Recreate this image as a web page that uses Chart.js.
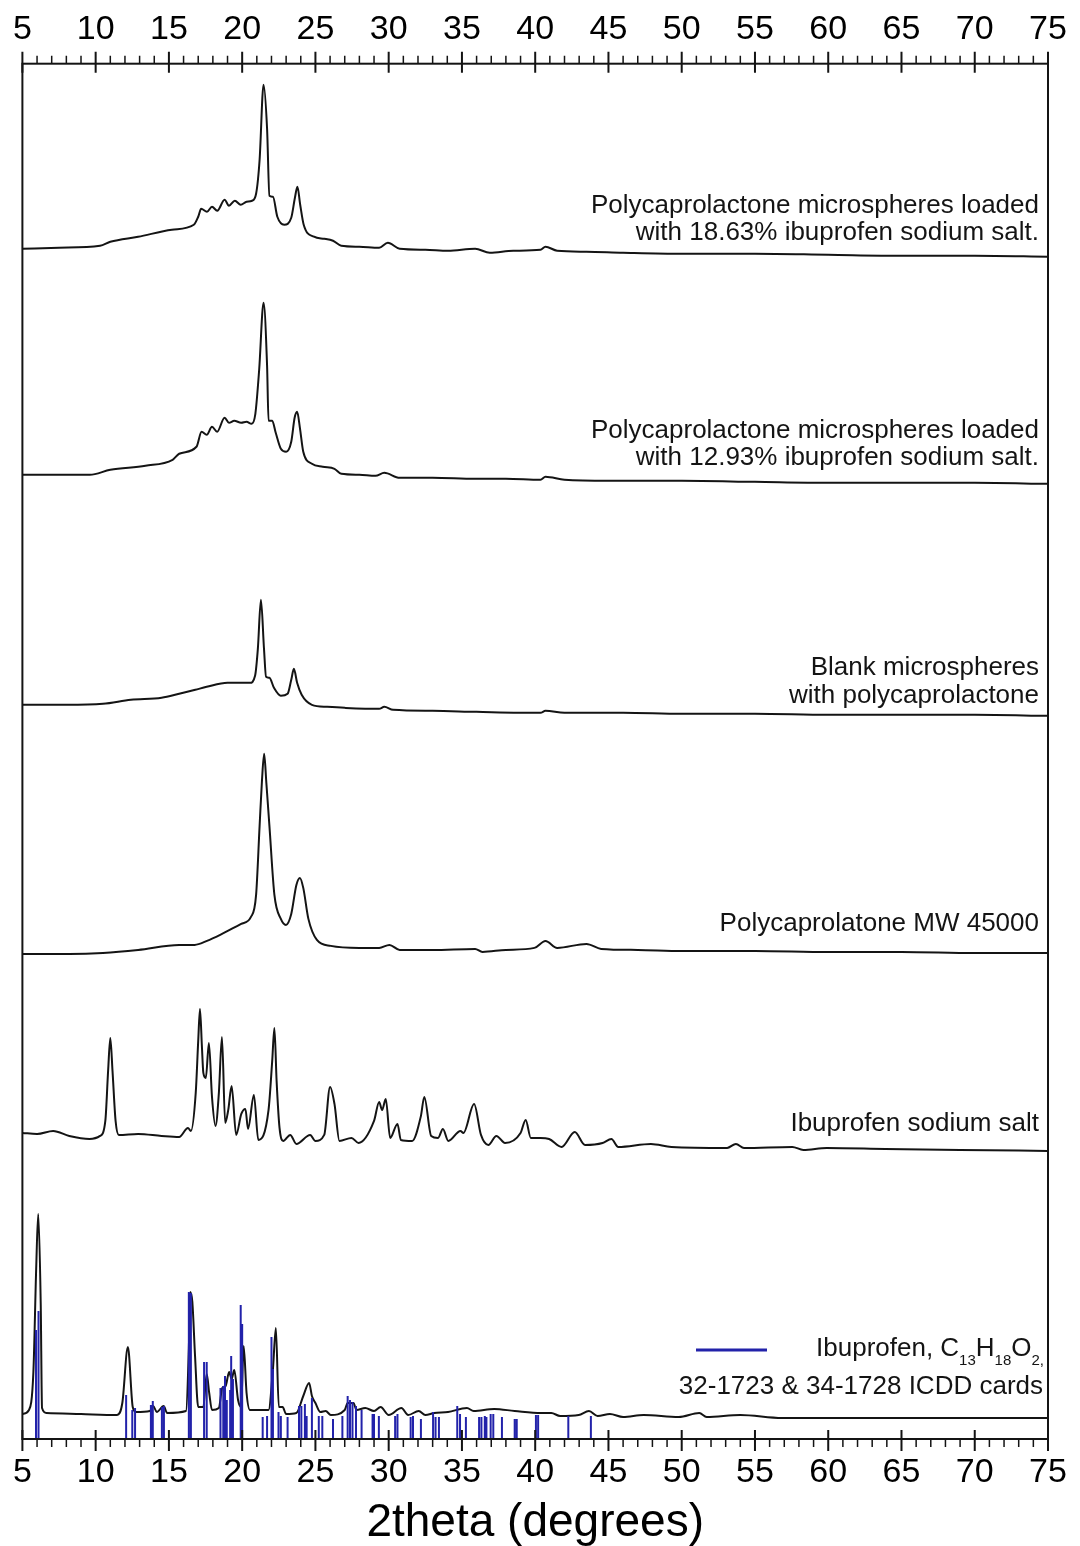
<!DOCTYPE html>
<html>
<head>
<meta charset="utf-8">
<script src="https://cdn.jsdelivr.net/npm/chart.js@4.4.1/dist/chart.umd.min.js"></script>
<style>
  html, body { margin: 0; padding: 0; background: #ffffff; }
  #wrap { width: 1080px; height: 1546px; position: relative; }
  canvas { display: block; }
</style>
</head>
<body>
<div id="wrap"><canvas id="xrd" width="1080" height="1546"></canvas></div>
<script>
// ---- X-ray powder diffraction patterns (2theta in degrees, intensity in arbitrary counts) ----

const axisTicks = [5, 10, 15, 20, 25, 30, 35, 40, 45, 50, 55, 60, 65, 70, 75];

// PCL microspheres loaded with 18.63 % ibuprofen sodium salt
const pcl1863Theta = [5, 7.5, 10.3, 11.0, 12.9, 15.2, 16.7, 17.0, 17.2, 17.6, 17.94, 18.3, 18.8, 19.1, 19.5, 19.9, 20.3, 20.67, 20.95, 21.19, 21.46, 21.7, 21.86, 22.1, 22.4, 22.87, 23.35, 23.6, 23.77, 23.96, 24.2, 24.9, 25.6, 26.2, 26.76, 28.0, 29.35, 29.94, 30.75, 32.5, 34.05, 35.9, 36.9, 38.5, 40.36, 40.7, 41.5, 43.5, 46, 50, 55, 60, 65, 70, 75];
const pcl1863Counts = [8, 9, 11, 15, 20, 27, 32, 40, 48, 45, 50, 46, 57, 51, 56, 52, 55, 56, 63, 97, 172, 128, 61, 60, 40, 32, 39, 59, 70, 52, 32, 20, 18, 16, 11, 10, 9, 14, 8, 7, 6, 8, 4, 6, 7, 10, 6, 5, 4, 3, 3, 2, 1, 1, 0];

// PCL microspheres loaded with 12.93 % ibuprofen sodium salt
const pcl1293Theta = [5, 7.5, 9.6, 11.0, 13.4, 15.25, 15.7, 16.88, 17.23, 17.58, 17.94, 18.29, 18.8, 19.1, 19.46, 19.93, 20.3, 20.64, 20.9, 21.16, 21.46, 21.7, 21.8, 22.05, 22.29, 22.64, 23.0, 23.35, 23.58, 23.75, 23.94, 24.17, 24.76, 25.5, 26.3, 26.77, 28.0, 29.1, 29.7, 30.75, 33, 35.9, 38, 40.36, 40.7, 42, 45, 50, 55, 60, 65, 70, 75];
const pcl1293Counts = [9, 9, 9, 14, 18, 24, 30, 37, 52, 49, 57, 52, 66, 61, 63, 61, 62, 60, 70, 114, 181, 118, 63, 63, 51, 35, 32, 42, 66, 72, 56, 32, 20, 17, 15, 10, 9, 8, 11, 6, 6, 5, 5, 4, 7, 4, 3, 3, 2, 1, 1, 1, 0];

// Blank polycaprolactone microspheres
const blankTheta = [5, 8, 10.5, 12.4, 14.5, 15.7, 16.8, 17.58, 19.0, 20.53, 20.88, 21.07, 21.28, 21.49, 21.63, 21.86, 22.17, 22.64, 23.1, 23.35, 23.53, 23.75, 24.06, 24.76, 25.8, 27.0, 29.35, 29.7, 30.3, 33, 36, 40.36, 40.7, 42, 46, 50, 55, 60, 65, 70, 75];
const blankCounts = [11, 11, 12, 16, 18, 22, 26, 29, 33, 33, 40, 67, 116, 67, 39, 38, 28, 20, 22, 36, 47, 33, 21, 11, 9, 8, 7, 9, 6, 5, 4, 3, 5, 3, 3, 2, 2, 1, 1, 1, 0];

// Polycaprolactone MW 45000 raw polymer
const pclTheta = [5, 8.2, 10.5, 12.9, 15.7, 16.76, 17.6, 18.5, 19.93, 20.6, 20.95, 21.19, 21.35, 21.5, 21.65, 21.86, 22.2, 22.64, 22.99, 23.35, 23.7, 23.94, 24.17, 24.52, 25.1, 26.05, 28, 29.35, 30.05, 30.75, 33, 35.9, 36.4, 38, 39.95, 40.7, 41.5, 43.5, 44.5, 47, 50, 55, 60, 65, 70, 75];
const pclCounts = [-1, -1, 0, 3, 8, 8, 12, 18, 29, 36, 58, 127, 172, 199, 170, 127, 58, 34, 28, 39, 68, 75, 65, 34, 13, 7, 5, 5, 8, 3, 3, 4, 1, 3, 5, 12, 5, 9, 4, 3, 2, 2, 1, 1, 0, 0];

// Ibuprofen sodium salt
const ibuNaTheta = [5, 6, 7.1, 8.2, 9.58, 10.3, 10.66, 10.85, 11.0, 11.15, 11.36, 11.58, 12.9, 14.5, 15.7, 16.3, 16.5, 16.83, 17.0, 17.12, 17.25, 17.35, 17.52, 17.73, 17.94, 18.18, 18.41, 18.62, 18.84, 19.05, 19.28, 19.59, 19.94, 20.22, 20.4, 20.8, 21.1, 21.8, 22.05, 22.2, 22.35, 22.55, 22.8, 23.28, 23.7, 24.64, 25.0, 25.6, 26.0, 26.3, 26.64, 27.46, 27.94, 29.0, 29.35, 29.55, 29.8, 30.1, 30.6, 30.83, 31.6, 32.2, 32.43, 32.9, 33.37, 33.7, 34.07, 34.9, 35.1, 35.83, 36.3, 36.8, 37.35, 37.94, 39.0, 39.35, 39.7, 40.36, 40.95, 41.8, 42.7, 43.4, 44.6, 45.2, 45.67, 47.9, 49.3, 53.1, 53.7, 54.25, 57.55, 58.3, 59.9, 63.9, 69, 75];
const ibuNaCounts = [18, 17, 20, 15, 12, 15, 30, 80, 113, 80, 30, 16, 17, 15, 14, 23, 20, 58, 110, 142, 105, 78, 73, 108, 54, 25, 58, 114, 28, 41, 65, 16, 37, 42, 22, 56, 11, 41, 90, 123, 70, 23, 10, 16, 7, 16, 10, 16, 64, 47, 10, 13, 8, 30, 49, 41, 52, 13, 27, 11, 10, 35, 54, 15, 13, 22, 10, 20, 18, 47, 16, 6, 15, 8, 18, 31, 13, 13, 12, 4, 19, 6, 8, 12, 4, 7, 4, 3, 7, 3, 4, 1, 3, 2, 1, 0];

// Ibuprofen, calculated pattern
const ibuCalcTheta = [5, 5.45, 5.75, 5.94, 6.08, 6.25, 6.34, 6.65, 9, 11.46, 11.82, 12.2, 12.53, 12.76, 13.7, 13.93, 14.17, 14.64, 14.88, 16.17, 16.36, 16.45, 16.6, 16.78, 17.0, 17.35, 17.58, 17.75, 17.94, 18.41, 18.64, 18.87, 19.11, 19.28, 19.46, 19.72, 19.93, 20.1, 20.3, 20.53, 21.8, 22.1, 22.3, 22.5, 22.76, 23.0, 23.7, 24.17, 24.57, 24.76, 25.0, 25.34, 25.7, 26.05, 27.0, 27.2, 27.6, 27.8, 28.4, 29.0, 29.45, 30.0, 30.87, 31.33, 32.05, 32.5, 33.1, 34.05, 35.34, 35.8, 37.2, 38.6, 40.4, 41.1, 41.7, 42.97, 43.67, 44.26, 45.1, 46.0, 47.4, 49.8, 51.2, 51.7, 54.0, 56.85, 63.9, 75];
const ibuCalcCounts = [4, 8, 46, 149, 204, 115, 10, 5, 4, 3, 15, 71, 11, 6, 7, 12, 6, 12, 5, 7, 70, 126, 116, 63, 11, 11, 44, 25, 8, 10, 30, 32, 46, 39, 48, 18, 11, 72, 25, 8, 8, 49, 90, 11, 11, 4, 5, 22, 35, 22, 15, 6, 7, 3, 8, 15, 15, 8, 10, 7, 11, 3, 10, 3, 7, 3, 5, 6, 10, 7, 9, 7, 5, 5, 2, 3, 7, 2, 4, 1, 3, 1, 5, 1, 3, 0, 0, 0];

// Ibuprofen reference lines, ICDD cards 32-1723 & 34-1728
const icddTheta = [5.93, 6.1, 12.08, 12.5, 12.69, 13.77, 13.9, 14.52, 14.66, 16.36, 16.5, 17.4, 17.58, 18.52, 18.71, 18.83, 18.95, 19.18, 19.25, 19.37, 19.9, 20.0, 21.4, 21.7, 22.0, 22.1, 22.48, 22.64, 23.1, 23.88, 24.04, 24.28, 24.4, 24.76, 25.23, 25.47, 26.2, 26.84, 27.2, 27.36, 27.53, 27.77, 28.15, 28.9, 29.0, 29.33, 30.44, 30.6, 31.5, 31.66, 32.2, 33.03, 33.2, 33.43, 34.68, 34.87, 35.27, 36.17, 36.33, 36.56, 36.67, 36.96, 37.14, 37.73, 38.6, 38.74, 40.05, 40.2, 42.26, 43.8];
const icddIntensity = [109, 128, 44, 29, 31, 34, 38, 32, 33, 147, 146, 77, 77, 51, 53, 63, 39, 49, 83, 60, 134, 115, 22, 23, 102, 70, 27, 23, 22, 33, 33, 35, 23, 41, 23, 23, 20, 23, 43, 39, 37, 33, 29, 25, 25, 23, 23, 25, 22, 23, 20, 27, 22, 22, 33, 25, 22, 22, 22, 23, 22, 25, 25, 22, 20, 20, 24, 24, 23, 23];

// vertical stacking of the patterns (same units as the counts)
const stackOffsets = [1182, 955, 723, 486, 288, 21];

// ---- chart construction ----
const FONT = '"Liberation Sans", Arial, Helvetica, sans-serif';
const INK = '#141414';
const STICK_BLUE = '#2222aa';

function pattern(thetas, counts, shift) {
  return thetas.map((t, i) => ({ x: t, y: counts[i] + shift }));
}

function sticks(thetas, heights) {
  const pts = [];
  thetas.forEach((t, i) => {
    pts.push({ x: t, y: 0 }, { x: t, y: heights[i] }, { x: t, y: null });
  });
  return pts;
}

const traceStyle = {
  type: 'line',
  borderColor: INK,
  borderWidth: 2,
  pointRadius: 0,
  fill: false,
  cubicInterpolationMode: 'monotone'
};

const datasets = [
  { label: 'ICDD', type: 'line', data: sticks(icddTheta, icddIntensity), borderColor: STICK_BLUE, borderWidth: 2, pointRadius: 0, spanGaps: false, tension: 0 },
  Object.assign({ label: '18.63%', data: pattern(pcl1863Theta, pcl1863Counts, stackOffsets[0]) }, traceStyle),
  Object.assign({ label: '12.93%', data: pattern(pcl1293Theta, pcl1293Counts, stackOffsets[1]) }, traceStyle),
  Object.assign({ label: 'blank', data: pattern(blankTheta, blankCounts, stackOffsets[2]) }, traceStyle),
  Object.assign({ label: 'PCL', data: pattern(pclTheta, pclCounts, stackOffsets[3]) }, traceStyle),
  Object.assign({ label: 'IbuNa', data: pattern(ibuNaTheta, ibuNaCounts, stackOffsets[4]) }, traceStyle),
  Object.assign({ label: 'Ibu calc', data: pattern(ibuCalcTheta, ibuCalcCounts, stackOffsets[5]) }, traceStyle)
];

const sampleLabels = [
  { trace: 0, rise: 51, lines: ['Polycaprolactone microspheres loaded', 'with 18.63% ibuprofen sodium salt.'] },
  { trace: 1, rise: 53, lines: ['Polycaprolactone microspheres loaded', 'with 12.93% ibuprofen sodium salt.'] },
  { trace: 2, rise: 48, lines: ['Blank microspheres', 'with polycaprolactone'] },
  { trace: 3, rise: 29, lines: ['Polycaprolatone MW 45000'] },
  { trace: 4, rise: 27, lines: ['Ibuprofen sodium salt'] }
];

function xAxis(position, withTitle, bandHeight) {
  return {
    type: 'linear',
    position: position,
    min: 5,
    max: 75,
    afterBuildTicks: (scale) => { scale.ticks = axisTicks.map(v => ({ value: v })); },
    afterFit: (scale) => {
      scale.height = bandHeight;
      scale.paddingLeft = 0;
      scale.paddingRight = 0;
    },
    ticks: {
      color: '#000',
      font: { family: FONT, size: 34, lineHeight: 1 },
      padding: 17,
      maxRotation: 0,
      autoSkip: false
    },
    grid: { display: false, drawTicks: false },
    border: { display: false },
    title: withTitle ? {
      display: true,
      text: '2theta (degrees)',
      color: '#000',
      font: { family: FONT, size: 46, lineHeight: 1 },
      padding: { top: 8, bottom: 0 }
    } : { display: false }
  };
}

// frame with major (crossing) and minor (outside) tick marks on top and bottom
const frameTicks = {
  id: 'frameTicks',
  afterDatasetsDraw(chart) {
    const { ctx, chartArea: a, scales } = chart;
    const xs = scales.x;
    ctx.save();
    ctx.strokeStyle = INK;
    ctx.lineWidth = 2;
    ctx.strokeRect(a.left, a.top, a.right - a.left, a.bottom - a.top);
    for (let v = xs.min; v <= xs.max; v += 1) {
      const px = xs.getPixelForValue(v);
      const major = v % 5 === 0;
      ctx.lineWidth = major ? 2 : 1.5;
      ctx.beginPath();
      if (major) {
        ctx.moveTo(px, a.top - 12); ctx.lineTo(px, a.top + 9);
        ctx.moveTo(px, a.bottom + 12); ctx.lineTo(px, a.bottom - 9);
      } else {
        ctx.moveTo(px, a.top - 8); ctx.lineTo(px, a.top);
        ctx.moveTo(px, a.bottom + 8); ctx.lineTo(px, a.bottom);
      }
      ctx.stroke();
    }
    ctx.restore();
  }
};

// sample names and the reference-card key
const captions = {
  id: 'captions',
  afterDraw(chart) {
    const { ctx, chartArea: a, scales } = chart;
    const ys = scales.y;
    const right = a.right - 9;
    const lineStep = 27.5;
    ctx.save();
    ctx.fillStyle = INK;
    ctx.textAlign = 'right';
    ctx.textBaseline = 'middle';
    ctx.font = '26px ' + FONT;
    sampleLabels.forEach(lbl => {
      const base = stackOffsets[lbl.trace] + lbl.rise;
      lbl.lines.forEach((txt, k) => {
        ctx.fillText(txt, right, ys.getPixelForValue(base - k * lineStep));
      });
    });

    // key for the ICDD lines
    const keyBase = stackOffsets[5];
    const yKey = ys.getPixelForValue(keyBase + 71);
    const parts = [
      ['Ibuprofen, C', false], ['13', true], ['H', false], ['18', true], ['O', false], ['2', true], [',', true]
    ];
    const mainFont = '26px ' + FONT;
    const subFont = '15px ' + FONT;
    let total = 0;
    parts.forEach(([t, sub]) => { ctx.font = sub ? subFont : mainFont; total += ctx.measureText(t).width; });
    let x = a.right - 4 - total;
    ctx.textAlign = 'left';
    ctx.textBaseline = 'alphabetic';
    const baseline = yKey + 9.3;
    parts.forEach(([t, sub]) => {
      ctx.font = sub ? subFont : mainFont;
      ctx.fillText(t, x, sub ? baseline + 8.6 : baseline);
      x += ctx.measureText(t).width;
    });
    ctx.font = mainFont;
    ctx.textAlign = 'right';
    ctx.textBaseline = 'middle';
    ctx.fillText('32-1723 & 34-1728 ICDD cards', a.right - 5, ys.getPixelForValue(keyBase + 31));

    const yLine = ys.getPixelForValue(keyBase + 68);
    ctx.strokeStyle = STICK_BLUE;
    ctx.lineWidth = 3;
    ctx.beginPath();
    ctx.moveTo(a.right - 352, yLine);
    ctx.lineTo(a.right - 281, yLine);
    ctx.stroke();
    ctx.restore();
  }
};

new Chart(document.getElementById('xrd'), {
  type: 'line',
  data: { datasets },
  options: {
    responsive: false,
    animation: false,
    devicePixelRatio: 1,
    layout: { padding: { top: 10.7, left: 22.4, right: 32, bottom: 0 } },
    plugins: { legend: { display: false }, tooltip: { enabled: false } },
    elements: { point: { radius: 0 } },
    scales: {
      x: xAxis('bottom', true, 107),
      x2: xAxis('top', false, 53),
      y: { type: 'linear', display: false, min: 0, max: 1375 }
    }
  },
  plugins: [frameTicks, captions]
});
</script>
</body>
</html>
